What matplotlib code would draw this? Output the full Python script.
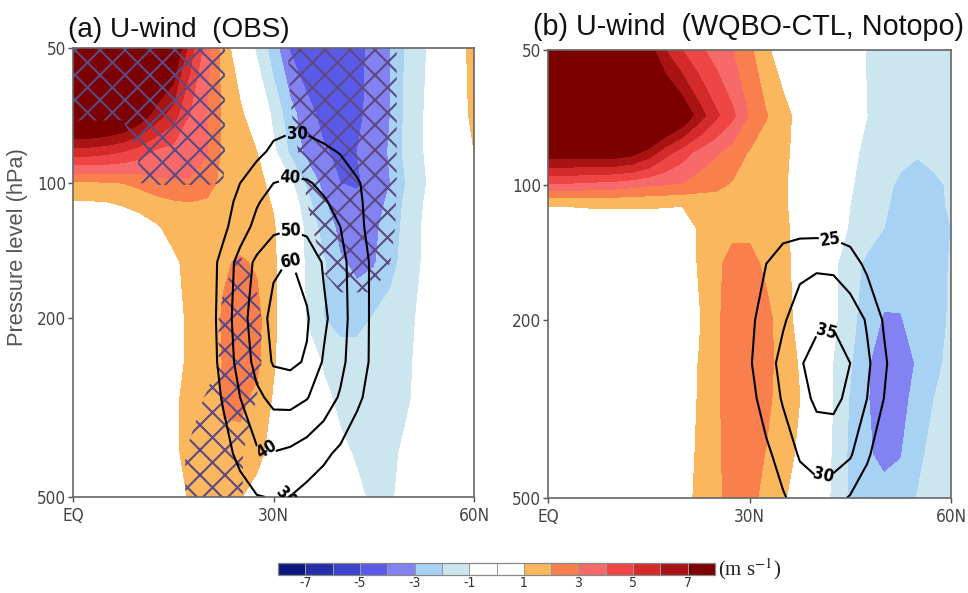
import numpy as np
import matplotlib
matplotlib.use("Agg")
import matplotlib.pyplot as plt
from matplotlib import font_manager
from matplotlib.colors import ListedColormap
from matplotlib.ticker import NullLocator, FixedLocator, FixedFormatter

DPI = 150

# ---------------------------------------------------------------- data
lat = np.arange(0, 60.01, 2.5)                      # 0 .. 60N
plev = [50, 70, 85, 100, 110, 125, 150, 200, 250, 300, 400, 500]   # hPa

# zonal-wind anomaly, observations (m/s)
u_obs = [
    [10, 10, 10, 10, 9.5, 9.0, 8.5, 5.5, 3.5, 1.5, 0.3, -1.2, -2.5, -4.1, -4.6, -4.8, -4.7, -4.3, -3.7, -3.0, -1.8, -1.1, -0.5, 0.5, 1.4],
    [9.5, 9.5, 9.3, 8.8, 7.8, 6.6, 5.5, 4.0, 3.0, 1.8, 1.2, 0.2, -1.3, -2.6, -3.7, -4.3, -4.4, -4.2, -3.7, -3.0, -1.7, -1.0, -0.4, 0.6, 1.2],
    [5.5, 5.5, 5.3, 5.0, 4.5, 3.8, 3.6, 3.4, 3.1, 1.8, 1.4, 1.0, -0.8, -2.2, -3.3, -3.9, -4.2, -4.0, -3.5, -2.9, -1.6, -1.0, -0.4, 0.3, 1.0],
    [1.8, 1.8, 1.9, 2.0, 2.3, 2.8, 2.9, 2.9, 2.4, 1.7, 1.5, 1.4, 0.6, -0.8, -2.2, -3.3, -4.0, -4.1, -3.7, -3.0, -1.9, -1.1, -0.5, -0.1, 0.4],
    [0.95, 0.95, 1.0, 1.1, 1.3, 1.6, 1.9, 2.0, 1.9, 1.7, 1.6, 1.4, 0.9, -0.3, -1.7, -2.9, -3.6, -3.8, -3.4, -2.8, -1.7, -1.0, -0.45, -0.1, 0.3],
    [0.4, 0.4, 0.4, 0.5, 0.6, 0.9, 1.3, 1.6, 1.7, 1.7, 1.6, 1.5, 1.1, 0.0, -1.3, -2.4, -3.3, -3.5, -3.2, -2.6, -1.6, -0.9, -0.4, -0.1, 0.2],
    [0.3, 0.3, 0.3, 0.3, 0.4, 0.5, 0.8, 1.3, 1.6, 1.9, 2.1, 1.9, 1.2, 0.0, -1.2, -1.9, -2.9, -3.2, -3.1, -2.4, -1.5, -0.9, -0.4, -0.1, 0.1],
    [0.2, 0.2, 0.2, 0.2, 0.2, 0.3, 0.6, 1.2, 1.5, 2.1, 2.6, 2.3, 1.2, 0.2, -1.1, -2.0, -2.5, -2.5, -1.9, -1.5, -1.2, -0.8, -0.3, 0.0, 0.1],
    [0.1, 0.1, 0.1, 0.1, 0.2, 0.3, 0.6, 1.2, 1.4, 2.05, 2.5, 2.2, 1.1, 0.2, -0.5, -1.1, -1.3, -1.3, -1.25, -1.2, -1.1, -0.8, -0.3, 0.0, 0.1],
    [0.1, 0.1, 0.1, 0.1, 0.2, 0.4, 0.8, 1.3, 1.5, 2.1, 2.2, 1.8, 0.9, 0.1, -0.4, -0.8, -1.2, -1.3, -1.3, -1.25, -1.1, -0.7, -0.3, 0.0, 0.1],
    [0.1, 0.1, 0.1, 0.1, 0.2, 0.4, 0.8, 1.3, 1.5, 1.8, 1.7, 1.3, 0.6, 0.1, -0.2, -0.5, -0.8, -1.1, -1.3, -1.2, -0.8, -0.4, -0.1, 0.0, 0.1],
    [0.1, 0.1, 0.1, 0.1, 0.1, 0.2, 0.5, 1.1, 1.4, 1.5, 1.05, 0.6, 0.3, 0.0, -0.1, -0.3, -0.5, -0.8, -1.2, -1.1, -0.7, -0.3, -0.1, 0.0, 0.1],
]

# zonal-wind difference WQBO minus CTL, no-topography run (m/s)
u_exp = [
    [10, 10, 10, 10, 10, 10, 7.5, 6.0, 5.0, 4.2, 3.6, 3.0, 2.2, 1.2, 0.4, 0.0, -0.1, -0.3, -0.6, -1.05, -1.3, -1.4, -1.5, -1.4, -1.3],
    [10, 10, 10, 10, 10, 10, 10, 9.0, 8.0, 6.5, 5.2, 4.2, 2.9, 2.05, 1.4, 0.6, 0.1, -0.2, -0.5, -1.0, -1.3, -1.5, -1.6, -1.5, -1.3],
    [7.6, 7.6, 7.6, 7.6, 7.6, 7.3, 6.5, 5.3, 4.4, 3.6, 3.1, 2.5, 1.9, 1.6, 1.3, 0.5, 0.0, -0.3, -0.8, -1.2, -1.5, -1.8, -1.95, -1.8, -1.5],
    [3.8, 3.8, 3.7, 3.6, 3.5, 3.3, 3.1, 3.0, 2.9, 2.5, 2.2, 1.9, 1.7, 1.5, 1.2, 0.4, 0.0, -0.4, -0.9, -1.4, -1.8, -2.15, -2.3, -2.15, -1.9],
    [1.1, 1.1, 1.15, 1.2, 1.2, 1.2, 1.2, 1.15, 1.1, 1.3, 1.6, 1.6, 1.6, 1.5, 1.2, 0.4, 0.0, -0.5, -1.0, -1.5, -1.9, -2.2, -2.4, -2.2, -1.9],
    [0.2, 0.2, 0.2, 0.2, 0.2, 0.2, 0.2, 0.2, 0.2, 1.15, 1.5, 1.8, 1.8, 1.6, 1.3, 0.5, 0.0, -0.5, -1.1, -1.6, -2.0, -2.3, -2.5, -2.3, -2.0],
    [0.15, 0.15, 0.15, 0.15, 0.15, 0.15, 0.15, 0.2, 0.3, 1.1, 1.8, 2.3, 2.3, 1.8, 1.3, 0.6, 0.0, -0.8, -1.6, -2.2, -2.5, -2.7, -2.8, -2.5, -1.9],
    [0.1, 0.1, 0.1, 0.1, 0.1, 0.1, 0.1, 0.15, 0.3, 0.9, 1.8, 2.5, 2.6, 2.3, 1.5, 0.6, 0.0, -0.8, -1.7, -2.5, -3.1, -3.05, -2.7, -2.3, -1.9],
    [0.1, 0.1, 0.1, 0.1, 0.1, 0.1, 0.1, 0.15, 0.3, 1.05, 1.8, 2.5, 2.6, 2.3, 1.6, 0.9, 0.2, -1.05, -1.9, -2.9, -3.5, -3.5, -2.9, -2.2, -1.8],
    [0.1, 0.1, 0.1, 0.1, 0.1, 0.1, 0.1, 0.15, 0.3, 1.1, 1.8, 2.5, 2.5, 2.2, 1.6, 1.0, 0.2, -1.05, -2.1, -2.95, -3.4, -3.3, -2.7, -2.0, -1.6],
    [0.1, 0.1, 0.1, 0.1, 0.1, 0.1, 0.1, 0.15, 0.4, 1.2, 1.8, 2.4, 2.4, 1.95, 1.4, 0.8, 0.2, -1.2, -2.2, -2.9, -3.2, -3.05, -2.3, -1.6, -1.3],
    [0.1, 0.1, 0.1, 0.1, 0.1, 0.1, 0.1, 0.15, 0.5, 1.3, 1.8, 2.3, 2.2, 1.8, 1.1, 0.6, 0.1, -1.3, -2.1, -2.5, -2.7, -2.5, -1.95, -1.5, -1.3],
]

# climatological zonal wind (black contours), m/s
jet_obs = [
    [2, 3, 4, 5, 6, 7, 8, 10, 12, 14, 16, 17, 18, 18.5, 18, 17, 15, 13, 11, 9, 7, 5, 4, 3, 2],
    [3, 4, 5, 6, 7, 9, 11, 13, 16, 19, 22, 25, 26.5, 27, 26.5, 25, 23, 20, 17, 14, 11, 8, 6, 5, 4],
    [4, 5, 6, 8, 9, 11, 13, 16, 19, 22, 25, 28, 31.5, 33, 33, 31.5, 29.5, 26, 22, 18, 14, 11, 8, 6, 5],
    [5, 6, 8, 10, 12, 15, 18, 22, 25.5, 28, 30, 35, 40, 41.5, 41, 38, 35, 31, 26, 21, 16, 12, 9, 7, 6],
    [5, 6, 8, 10, 12, 15, 18, 22, 25, 27, 32, 39, 44, 45, 44, 41, 37, 32, 26, 21, 16, 12, 9, 7, 6],
    [6, 7, 9, 11, 13, 15, 18, 21, 25, 28, 35, 43, 47.5, 49, 47.5, 44, 40, 33, 26, 21, 16, 12, 9, 7, 6],
    [7, 8, 10, 12, 14, 16, 19, 22, 25, 33, 44, 52, 58.5, 60.5, 57, 49, 43, 35, 28, 22, 17, 13, 10, 8, 7],
    [8, 9, 11, 13, 15, 17, 20, 23, 25, 34, 46, 55, 63, 65, 61, 52, 44, 35, 28, 22, 17, 13, 10, 8, 7],
    [8, 9, 11, 13, 15, 17, 19, 22, 25, 33, 44, 53, 61, 62, 59, 49, 42.5, 34.5, 28, 22, 17, 13, 10, 8, 7],
    [7, 8, 10, 12, 14, 16, 18, 21, 24, 31, 40, 48, 52.5, 53, 50.5, 45, 39, 32, 26, 21, 16, 12, 9, 7, 6],
    [6, 7, 8, 10, 12, 14, 16, 18, 20, 26, 33, 38.5, 39.5, 38, 35, 32, 28, 23, 19, 15, 12, 10, 8, 6, 5],
    [5, 6, 7, 8, 10, 11, 13, 15, 17, 20, 25, 29.5, 30.5, 29.8, 27, 24, 21, 17, 14, 11, 9, 7, 6, 5, 4],
]

jet_exp = [
    [2, 2, 3, 3, 4, 5, 6, 7, 8, 9, 10, 11, 12, 13, 13.5, 14, 14, 13.5, 13, 12, 11, 10, 9, 8, 7],
    [3, 3, 4, 4, 5, 6, 7, 8, 9, 11, 12, 14, 15, 16, 17, 17.5, 17.5, 17, 16, 15, 14, 12, 11, 10, 9],
    [3, 4, 4, 5, 6, 7, 8, 9, 11, 12, 14, 16, 17.5, 19, 20, 20.5, 20.5, 20, 19, 17.5, 16, 14, 12, 11, 10],
    [4, 4, 5, 6, 7, 8, 9, 10, 12, 14, 16, 18, 20, 21.5, 22.5, 23, 23, 22.5, 21.5, 20, 18, 16, 14, 12, 11],
    [4, 5, 5, 6, 7, 8, 9, 11, 13, 15, 17, 19, 21, 22.5, 23, 23.3, 23.3, 23, 22.5, 21, 19, 17, 15, 13, 12],
    [4, 5, 6, 7, 8, 9, 10, 12, 14, 16, 18, 20, 22, 23, 23.3, 23.5, 23.5, 23.3, 23, 22, 20, 18, 16, 14, 12],
    [5, 6, 7, 8, 9, 10, 11, 13, 15, 17, 19, 21, 23, 25, 27.5, 29, 29.3, 29, 27, 24, 21, 19, 17, 15, 13],
    [5, 6, 7, 8, 9, 10, 12, 14, 16, 18, 19.5, 21.5, 24, 27, 29.5, 32, 34, 34.5, 33, 29.5, 24.5, 20, 17, 15, 13],
    [5, 6, 7, 8, 9, 10, 12, 14, 16, 18, 20, 22, 24.5, 28, 31.5, 34.5, 37, 37, 35, 31, 26, 21, 17, 15, 13],
    [5, 6, 7, 8, 9, 10, 11, 13, 15, 17, 19, 21, 23.5, 27, 30.5, 33.5, 35.8, 36, 34, 30, 25, 20, 17, 15, 13],
    [5, 5, 6, 7, 8, 9, 10, 12, 14, 16, 18, 19.5, 21, 24, 27, 30.5, 32, 32, 30.5, 26, 21, 18, 15, 13, 12],
    [4, 5, 5, 6, 7, 8, 9, 11, 13, 14, 16, 18, 19.5, 21, 24.5, 27, 27.8, 27, 24.5, 21, 18, 15, 13, 11, 10],
]

# statistical significance of the observed anomaly (1 = significant)
sig_obs = [
    [1, 1, 1, 1, 1, 1, 1, 1, 1, 0.55, 0, 0, 0, 0.6, 1, 1, 1, 1, 1, 0.8, 0, 0, 0, 0, 0],
    [0.6, 0.6, 0.6, 0.6, 1, 1, 1, 1, 1, 0.55, 0, 0, 0, 0.45, 1, 1, 1, 1, 1, 0.8, 0, 0, 0, 0, 0],
    [0, 0, 0, 0, 0.6, 1, 1, 1, 1, 0.55, 0, 0, 0, 0.15, 0.9, 1, 1, 1, 1, 0.8, 0, 0, 0, 0, 0],
    [0, 0, 0, 0, 0.5, 0.55, 0.55, 0.55, 0.55, 0.5, 0, 0, 0, 0, 0.6, 1, 1, 1, 1, 0.8, 0, 0, 0, 0, 0],
    [0, 0, 0, 0, 0, 0, 0, 0, 0, 0, 0, 0, 0, 0, 0.5, 1, 1, 1, 1, 0.75, 0, 0, 0, 0, 0],
    [0, 0, 0, 0, 0, 0, 0, 0, 0, 0, 0, 0, 0, 0, 0.3, 0.9, 1, 1, 1, 0.7, 0, 0, 0, 0, 0],
    [0, 0, 0, 0, 0, 0, 0, 0, 0, 0.3, 0.6, 0.3, 0, 0, 0, 0.6, 1, 1, 1, 0.5, 0, 0, 0, 0, 0],
    [0, 0, 0, 0, 0, 0, 0, 0, 0, 0.7, 1, 0.7, 0, 0, 0, 0, 0, 0, 0, 0, 0, 0, 0, 0, 0],
    [0, 0, 0, 0, 0, 0, 0, 0, 0, 0.7, 1, 0.7, 0, 0, 0, 0, 0, 0, 0, 0, 0, 0, 0, 0, 0],
    [0, 0, 0, 0, 0, 0, 0, 0, 0.6, 1, 1, 0.5, 0, 0, 0, 0, 0, 0, 0, 0, 0, 0, 0, 0, 0],
    [0, 0, 0, 0, 0, 0, 0, 0.7, 1, 1, 0.6, 0, 0, 0, 0, 0, 0, 0, 0, 0, 0, 0, 0, 0, 0],
    [0, 0, 0, 0, 0, 0, 0, 0.7, 1, 1, 0.6, 0, 0, 0, 0, 0, 0, 0, 0, 0, 0, 0, 0, 0, 0],
]

shade_levels = list(range(-7, 8))
shade_colors = ["#0c1680", "#2530a8", "#3a44cc", "#5a5ae8", "#8282f2", "#a8d2f4",
                "#cce6f0", "#ffffff", "#ffffff", "#fbb75e", "#f9804c", "#f86a6a",
                "#f04545", "#d42a2a", "#a81414", "#7c0000"]
cbar_ticks = [-7, -5, -3, -1, 1, 3, 5, 7]
cbar_labels = ["-7", "-5", "-3", "-1", "1", "3", "5", "7"]

jet_levels_obs = [30, 40, 50, 60]
jet_levels_exp = [25, 30, 35]

p_ticks = [50, 100, 200, 500]
p_tick_labels = ["50", "100", "200", "500"]
lat_ticks = [0, 30, 60]
lat_tick_labels = ["EQ", "30N", "60N"]

titles = ["(a) U-wind  (OBS)", "(b) U-wind  (WQBO-CTL, Notopo)"]


# ---------------------------------------------------------------- fonts
def find_narrow():
    cands = []
    for f in font_manager.fontManager.ttflist:
        tag = (f.name + " " + str(f.stretch) + " " + f.fname).lower()
        if f.style != "normal":
            continue
        if not any(k in tag for k in ("condensed", "narrow")):
            continue
        if any(k in tag for k in ("semi", "extra", "ultra", "bold", "light", "thin", "black", "medium")):
            continue
        cands.append(f)
    order = ["liberation", "dejavu", "roboto", "noto", "open"]
    cands.sort(key=lambda f: next((i for i, k in enumerate(order) if k in f.name.lower()), 99))
    return cands[0] if cands else None


narrow = find_narrow()
if narrow is not None:
    NARROW_FAMILY = narrow.name
    NARROW_STRETCH = narrow.stretch
else:
    NARROW_FAMILY = "DejaVu Sans"
    NARROW_STRETCH = "normal"


def narrow_fp(size):
    if narrow is not None:
        return font_manager.FontProperties(fname=narrow.fname, size=size)
    return font_manager.FontProperties(family="DejaVu Sans", size=size * 0.85)


# ---------------------------------------------------------------- figure
fig = plt.figure(figsize=(968 / DPI, 593 / DPI), dpi=DPI)
ax_a = fig.add_axes([73 / 968, 1 - 497 / 593, 401 / 968, 449 / 593])
ax_b = fig.add_axes([548 / 968, 1 - 498 / 593, 403 / 968, 448 / 593])

cmap = ListedColormap(shade_colors[1:-1])
cmap.set_under(shade_colors[0])
cmap.set_over(shade_colors[-1])

panels = [
    (ax_a, u_obs, jet_obs, jet_levels_obs,
     [(33.5, 80), (32.5, 96), (32.5, 130), (32.5, 148), (28.5, 395), (31.0, 497)]),
    (ax_b, u_exp, jet_exp, jet_levels_exp,
     [(42.0, 133), (41.0, 206), (41.0, 446)]),
]

fills = []
for ax, u, jet, jl, lab_pos in panels:
    cf = ax.contourf(lat, plev, u, levels=shade_levels, cmap=cmap, extend="both")
    fills.append(cf)
    if ax is ax_a:
        with plt.rc_context({"hatch.color": "#5e4a82", "hatch.linewidth": 1.0}):
            ax.contourf(lat, plev, sig_obs, levels=[0.5, 1.5], colors="none",
                        hatches=["xx"])
    cs = ax.contour(lat, plev, jet, levels=jl, colors="k", linewidths=1.0)
    with plt.rc_context({"font.family": [NARROW_FAMILY], "font.stretch": NARROW_STRETCH,
                         "font.weight": "bold"}):
        ax.clabel(cs, fmt="%d", manual=lab_pos, inline=True, inline_spacing=1,
                  fontsize=8)

    ax.set_yscale("log")
    ax.set_xlim(0, 60)
    ax.set_ylim(500, 50)
    ax.yaxis.set_major_locator(FixedLocator(p_ticks))
    ax.yaxis.set_major_formatter(FixedFormatter(p_tick_labels))
    ax.yaxis.set_minor_locator(NullLocator())
    ax.xaxis.set_major_locator(FixedLocator(lat_ticks))
    ax.xaxis.set_major_formatter(FixedFormatter(lat_tick_labels))
    ax.xaxis.set_minor_locator(NullLocator())
    ax.tick_params(direction="out", length=2.4, width=0.7, color="#555555",
                   labelcolor="#444444")
    ax.tick_params(axis="y", pad=0.8)
    ax.tick_params(axis="x", pad=2.5)
    for lab in ax.get_xticklabels() + ax.get_yticklabels():
        lab.set_fontproperties(narrow_fp(8.2))
    for sp in ax.spines.values():
        sp.set_color("#666666")
        sp.set_linewidth(0.8)

# titles and axis label
fig.text(68 / 968, 1 - 37 / 593, titles[0], ha="left", va="baseline",
         fontsize=13.4, family="Liberation Sans", color="#111111")
fig.text(533 / 968, 1 - 35 / 593, titles[1], ha="left", va="baseline",
         fontsize=13.8, family="Liberation Sans", color="#111111")
fig.text(18 / 968, 1 - 247 / 593, "Pressure level (hPa)", rotation=90,
         ha="center", va="center", fontsize=10.5, family="Liberation Sans",
         color="#555555")

# colour bar
cax = fig.add_axes([278 / 968, 1 - 575 / 593, 437 / 968, 12 / 593])
cb = fig.colorbar(fills[0], cax=cax, orientation="horizontal", ticks=cbar_ticks,
                  drawedges=True, extendrect=True, extendfrac="auto")
cb.ax.xaxis.set_major_formatter(FixedFormatter(cbar_labels))
cb.outline.set_edgecolor("#888888")
cb.outline.set_linewidth(0.6)
cb.dividers.set_color("#999999")
cb.dividers.set_linewidth(0.5)
cax.tick_params(length=0, pad=0.3, labelcolor="#333333")
for lab in cax.get_xticklabels():
    lab.set_fontproperties(narrow_fp(6.7))
fig.text(718 / 968, 1 - 569 / 593, r"(m s$^{-1}$)", ha="left", va="center",
         fontsize=10, family="Liberation Serif", math_fontfamily="stix",
         color="#222222")

fig.savefig("out.png", dpi=DPI)
